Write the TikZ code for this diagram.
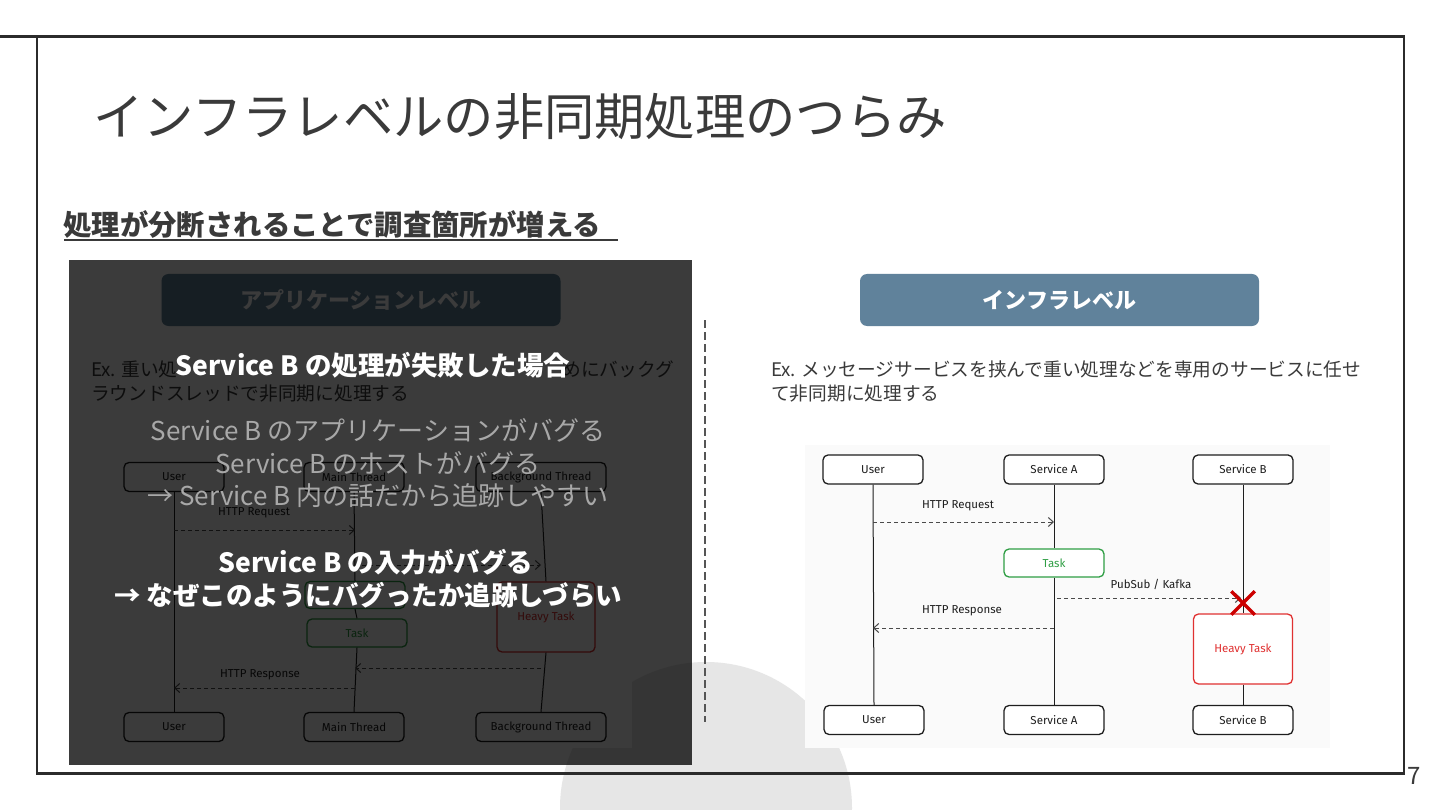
\documentclass[tikz,border=0pt]{standalone}
\usepackage{fontspec}
\setmainfont{Noto Sans CJK JP}
\newfontfamily\hand{Fira Sans}
\usetikzlibrary{arrows.meta,shapes.misc}
\definecolor{framec}{HTML}{2B2B2B}
\definecolor{titlec}{HTML}{3A3A3A}
\definecolor{circc}{HTML}{E6E6E6}
\definecolor{steel}{RGB}{96,130,155}
\definecolor{dk}{HTML}{1E1E1E}
\definecolor{msgc}{HTML}{4A4A4A}
\definecolor{gr}{HTML}{2F9E44}
\definecolor{rd}{HTML}{E03131}
\definecolor{xred}{HTML}{CC0000}
\definecolor{greyt}{HTML}{A8A8A8}
\definecolor{sepc}{HTML}{555555}
\begin{document}
\begin{tikzpicture}[x=1pt,y=-1pt,
  box/.style={draw=dk, line width=1.3pt, rounded corners=5pt, fill=white, minimum width=100pt, minimum height=29pt, inner sep=0pt, font=\hand\fontsize{11.5}{13}\selectfont, text=dk},
  gbox/.style={box, draw=gr, text=gr},
  rbox/.style={box, draw=rd, text=rd},
  msg/.style={draw=msgc, line width=1pt, dash pattern=on 4pt off 3pt, -{Straight Barb[length=5pt,width=9pt]}},
  life/.style={draw=dk, line width=1pt},
  lbl/.style={font=\hand\fontsize{11.5}{13}\selectfont, text=dk, inner sep=0pt},
  hdr/.style={fill=steel, rounded corners=7pt, minimum width=399pt, minimum height=52pt, inner sep=0pt, text=white, font=\bfseries\fontsize{22}{26}\selectfont},
  extext/.style={anchor=west, inner sep=0pt, text=titlec, font=\fontsize{18.7}{22}\selectfont},
  hot/.style={inner sep=0pt, text=white, font=\bfseries\fontsize{26.5}{30}\selectfont},
  cool/.style={inner sep=0pt, text=greyt, font=\fontsize{26}{30}\selectfont}
]
\useasboundingbox (0,0) rectangle (1440,810);
\fill[white] (0,0) rectangle (1440,810);
\fill[circc] (706,808) circle[radius=146];

% frame
\draw[framec, line width=3pt] (0,37) -- (1405,37);
\draw[framec, line width=2pt] (37,37) -- (37,774);
\draw[framec, line width=2pt] (1404,37) -- (1404,774);
\draw[framec, line width=3pt] (36,773) -- (1405,773);
\node[inner sep=0pt, text=titlec, font=\fontsize{24}{28}\selectfont] (pnum) at (1414,776) {7};

% title
\node[anchor=west, inner sep=0pt, text=titlec, font=\fontsize{50.3}{60}\selectfont] (title) at (93,117) {インフラレベルの非同期処理のつらみ};
\node[anchor=west, inner sep=0pt, text=titlec, font=\bfseries\fontsize{28.4}{32}\selectfont] (sub) at (63,225) {処理が分断されることで調査箇所が増える};
\draw[titlec, line width=2pt] (64,240) -- (618,240);

% ---------------- left panel (application level, dimmed) -------------
\fill[white] (107,445) rectangle (632,748);
\node[hdr] (apphdr) at (361,300) {アプリケーションレベル};
\node[extext] (lex1) at (91,369) {Ex. 重い処};
\node[extext, anchor=east] (lex2) at (674,369) {めにバックグ};
\node[extext] (lex3) at (91,394) {ラウンドスレッドで非同期に処理する};

\node[box] (lu1) at (174,477) {User};
\node[box] (lm1) at (354,477) {Main Thread};
\node[box, minimum width=130pt] (lb1) at (541,477) {Background Thread};
\node[box] (lu2) at (174,727) {User};
\node[box] (lm2) at (354,727) {Main Thread};
\node[box, minimum width=130pt] (lb2) at (541,727) {Background Thread};
\node[gbox, minimum height=27pt] (lt1) at (355,595) {};
\node[gbox, minimum height=28pt] (lt2) at (357,633) {Task};
\node[rbox, minimum width=98pt, minimum height=70pt] (lheavy) at (546,617) {Heavy Task};
\draw[life] (lu1.south) -- (lu2.north);
\draw[life] (lm1.south) -- (lt1.north);
\draw[life] (lt1.south) -- (lt2.north);
\draw[life] (lt2.south) -- (lm2.north);
\draw[life] (lb1.south) -- (lheavy.north);
\draw[life] (lheavy.south) -- (lb2.north);
\coordinate (lq1) at (174,530); \coordinate (lq2) at (355,530);
\coordinate (lp1) at (355,565); \coordinate (lp2) at (541,565);
\coordinate (lr1) at (541,668); \coordinate (lr2) at (355,668);
\coordinate (ls1) at (355,688); \coordinate (ls2) at (174,688);
\draw[msg] (lq1) -- (lq2);
\draw[msg] (lp1) -- (lp2);
\draw[msg] (lr1) -- (lr2);
\draw[msg] (ls1) -- (ls2);
\node[lbl] (lql) at (254,513) {HTTP Request};
\node[lbl] (lsl) at (260,675) {HTTP Response};

% dark overlay
\fill[black, opacity=0.77] (69,260) rectangle (692,765);

% overlay texts
\node[hot] (h1) at (373,365) {Service B の処理が失敗した場合};
\node[cool] (c1) at (378,430) {Service B のアプリケーションがバグる};
\node[cool] (c2) at (378,463) {Service B のホストがバグる};
\node[cool] (c3) at (378,496) {→ Service B 内の話だから追跡しやすい};
\node[hot] (h2) at (376,562) {Service B の入力がバグる};
\node[hot] (h3) at (368,595) {→ なぜこのようにバグったか追跡しづらい};

% separator
\coordinate (sepa) at (705,320); \coordinate (sepb) at (705,722);
\draw[sepc, line width=2pt, dash pattern=on 8pt off 4pt] (sepa) -- (sepb);

% ---------------- right panel (infra level) -------------
\node[hdr] (infhdr) at (1059.5,300) {インフラレベル};
\node[extext] (rex1) at (771,369) {Ex. メッセージサービスを挟んで重い処理などを専用のサービスに任せ};
\node[extext] (rex2) at (771,394) {て非同期に処理する};

\fill[white!98!black] (805,445) rectangle (1330,748);
\node[box] (ru1) at (873,469.5) {User};
\node[box] (ra1) at (1054,469.5) {Service A};
\node[box] (rb1) at (1243,469.5) {Service B};
\node[box] (ru2) at (874,720) {User};
\node[box] (ra2) at (1054,720) {Service A};
\node[box] (rb2) at (1243,720) {Service B};
\node[gbox, minimum height=28pt] (task) at (1054,563) {Task};
\node[rbox, minimum width=99pt, minimum height=70pt] (heavy) at (1243,649) {Heavy Task};
\draw[life] (ru1.south) -- (ru2.north);
\draw[life] (ra1.south) -- (task.north);
\draw[life] (task.south) -- (ra2.north);
\draw[life] (rb1.south) -- (heavy.north);
\draw[life] (heavy.south) -- (rb2.north);
\coordinate (rq1) at (873,522); \coordinate (rq2) at (1054,522);
\coordinate (rp1) at (1057,598); \coordinate (rp2) at (1241,598);
\coordinate (rs1) at (1054,628); \coordinate (rs2) at (873,628);
\draw[msg] (rq1) -- (rq2);
\draw[msg] (rp1) -- (rp2);
\draw[msg] (rs1) -- (rs2);
\node[lbl] (rql) at (958,506) {HTTP Request};
\node[lbl] (rpl) at (1151,584) {PubSub / Kafka};
\node[lbl] (rsl) at (962,611) {HTTP Response};
\node[cross out, draw=xred, line width=3.5pt, minimum size=20pt, inner sep=0pt] (xx) at (1243,603) {};
\end{tikzpicture}
\end{document}
